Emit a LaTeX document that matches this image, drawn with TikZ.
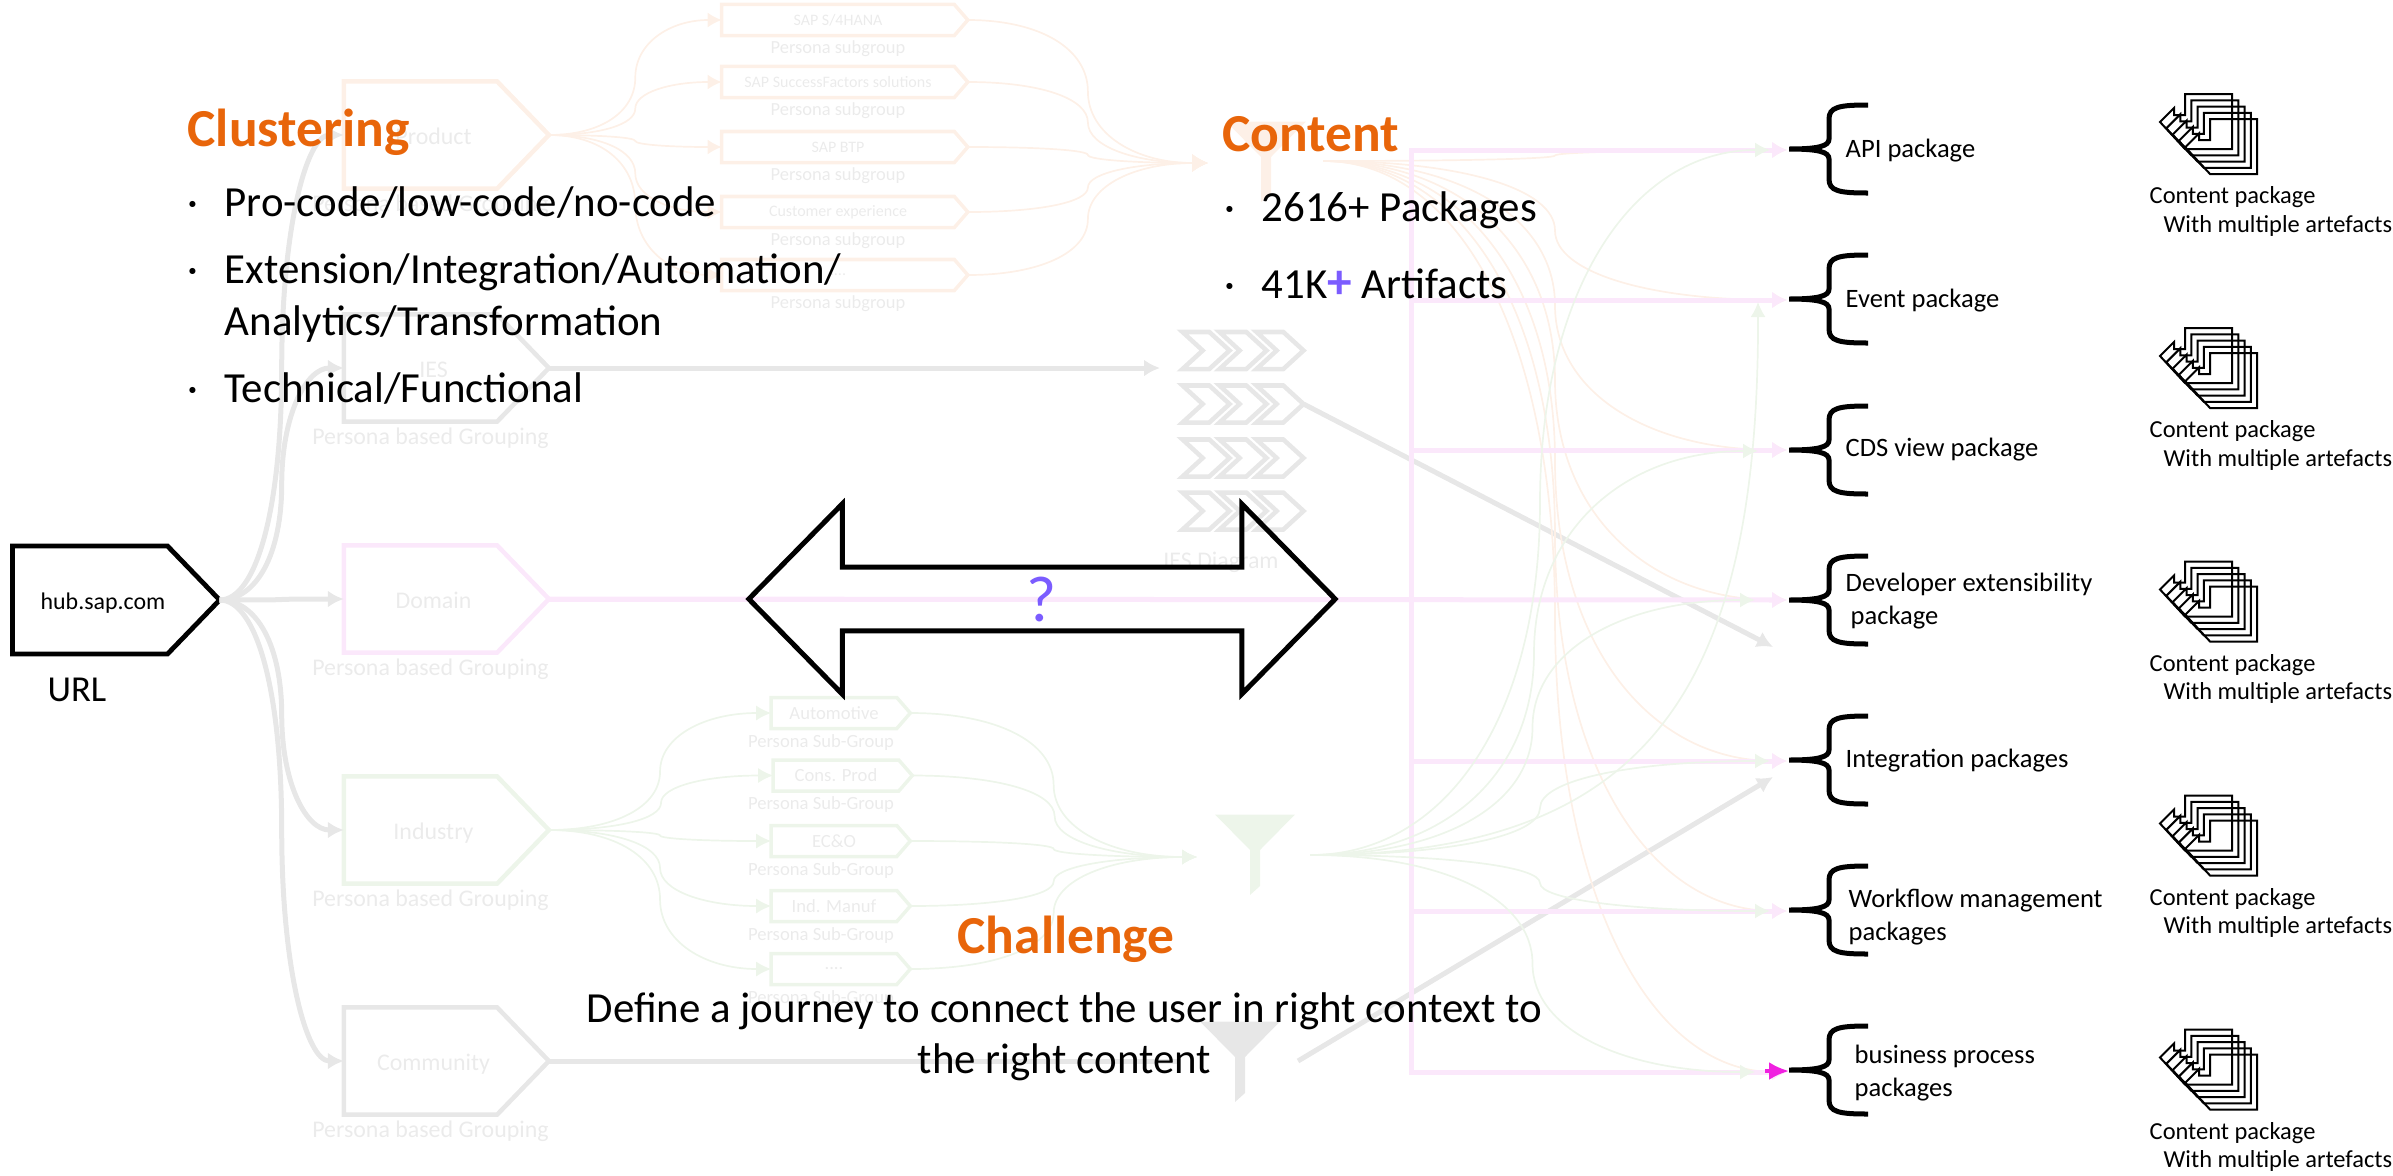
\documentclass[tikz,border=0pt]{standalone}
\usepackage{fontspec}
\setmainfont{Carlito}
\usepackage{xcolor}
\usetikzlibrary{arrows.meta, positioning, shapes.symbols, shapes.arrows, calc}

\definecolor{fadegrey}{HTML}{E7E7E7}
\definecolor{fadeorange}{HTML}{FDF0E7}
\definecolor{fadepink}{HTML}{FBE8FB}
\definecolor{fadegreen}{HTML}{EDF5EA}
\definecolor{fadetext}{HTML}{EBEBEB}
\definecolor{headorange}{HTML}{E8650A}
\definecolor{plusviolet}{HTML}{7B5CFF}
\definecolor{hotpink}{HTML}{F020E0}

\newcommand{\fsize}[2]{\fontsize{#1}{#2}\selectfont}
\newcommand{\bulletdot}{\makebox[.37cm][l]{·}}

\begin{document}
\begin{tikzpicture}[
x=.01cm, y=-.01cm,
plate/.style={signal,
draw,
line width=.045cm,
minimum width=2.05cm,
minimum height=1.07cm,
signal pointer angle=92,
inner sep=0pt,
outer sep=0pt,
text=fadetext,
text height=.18cm,
text depth=0pt,
execute at begin node={\hspace*{.26cm}},
font=\fsize{6.8}{8}},
subplate/.style={signal,
draw,
line width=.035cm,
minimum height=.31cm,
signal pointer angle=98,
inner sep=0pt,
outer sep=0pt,
text=fadetext},
orangesub/.style={subplate, draw=fadeorange, minimum width=2.46cm, font=\fsize{4.55}{6}},
greensub/.style={subplate, draw=fadegreen, minimum width=1.39cm, font=\fsize{5.3}{6}},
chevronbox/.style={signal,
signal from=west,
signal to=east,
draw=fadegrey,
line width=.045cm,
minimum width=.47cm,
minimum height=.37cm,
signal pointer angle=85,
inner sep=0pt,
outer sep=0pt},
fadelabel/.style={text=fadetext, inner sep=0pt, font=\fsize{6.8}{8}},
sublabel/.style={text=fadetext, inner sep=0pt, font=\fsize{5.25}{6}},
headline/.style={text=headorange, inner sep=0pt, anchor=base west, font=\bfseries\fsize{15.2}{18}},
bigtext/.style={inner sep=0pt, anchor=base west, align=left, font=\fsize{12.2}{14.8}},
pkglabel/.style={inner sep=0pt, anchor=west, align=left, font=\fsize{7.55}{9.2}},
pkgtext/.style={inner sep=0pt, anchor=west, align=left, font=\fsize{6.95}{8.2}},
greyarrow/.style={-{Latex[length=.16cm,width=.17cm]}, fadegrey, line width=.05cm},
pinkarrow/.style={-{Latex[length=.15cm,width=.17cm]}, fadepink, line width=.05cm},
orangethin/.style={-{Latex[length=.14cm,width=.15cm]}, fadeorange, line width=.017cm},
orangemerge/.style={-{Latex[length=.16cm,width=.18cm]}, fadeorange, line width=.017cm},
greenthin/.style={-{Latex[length=.15cm,width=.15cm]}, fadegreen, line width=.017cm},
elbow/.style={to path={let \p1=(\tikztostart), \p2=(\tikztotarget), \n1={.5*\x1+.5*\x2}, \n2={.5*\y1+.5*\y2} in .. controls ($(\x1,\y1)!.6!(\n1,\y1)$) and ($(\n1,\n2)!.6!(\n1,\y1)$) .. (\n1,\n2) .. controls ($(\n1,\n2)!.6!(\n1,\y2)$) and ($(\x2,\y2)!.6!(\n1,\y2)$) .. (\tikztotarget)}},
funnelicon/.pic={\fill[pic actions] (-40,-36.5) -- (40,-36.5) -- (5,-1) -- (5,35) -- (-5,44) -- (-5,-1) -- cycle;},
pkgbrace/.pic={\draw[line width=.05cm] (79,-44) .. controls (50,-44) and (40,-42) .. (40,-30) -- (40,-10) .. controls (40,-3) and (30,0) .. (0,0) .. controls (30,0) and (40,3) .. (40,10) -- (40,30) .. controls (40,42) and (50,44) .. (79,44);},
artpage/.pic={\draw[line width=.02cm] (25,-28) -- (72,-28) -- (72,27) -- (25,27) -- (0,0) -- (14,-14) -- (14,-7) -- (25,-7) -- cycle;},
pkgicon/.pic={\pic at (0,0) {artpage}; \pic at (6.3,6.3) {artpage}; \pic at (12.6,12.6) {artpage}; \pic at (18.9,18.9) {artpage}; \pic at (25.2,25.2) {artpage};}
]

\useasboundingbox (0,0) rectangle (2393,1175);

% left column
\node[plate, draw=black, line width=.048cm, minimum width=2.07cm, minimum height=1.08cm, text=black] (hub) at (90,600) {hub.sap.com};
\node[inner sep=0pt, font=\fsize{10.4}{12}] (urllabel) at (77,690) {URL};

\node[plate, draw=fadeorange] (product) at (420.5,135) {Product};
\node[plate, draw=fadegrey] (ies) at (420.5,368) {IES};
\node[plate, draw=fadepink] (domain) at (420.5,599) {Domain};
\node[plate, draw=fadegreen] (industry) at (420.5,830) {Industry};
\node[plate, draw=fadegrey] (community) at (420.5,1061) {Community};

\node[fadelabel, below=.06cm of product, xshift=.1cm] (productlab) {Persona based Grouping};
\node[fadelabel, below=.06cm of ies, xshift=.1cm] (ieslab) {Persona based Grouping};
\node[fadelabel, below=.06cm of domain, xshift=.1cm] (domainlab) {Persona based Grouping};
\node[fadelabel, below=.06cm of industry, xshift=.1cm] (industrylab) {Persona based Grouping};
\node[fadelabel, below=.06cm of community, xshift=.1cm] (communitylab) {Persona based Grouping};

\draw[greyarrow] (hub.east) to[elbow] (product.west);
\draw[greyarrow] (hub.east) to[elbow] (ies.west);
\draw[greyarrow] (hub.east) to[elbow] (domain.west);
\draw[greyarrow] (hub.east) to[elbow] (industry.west);
\draw[greyarrow] (hub.east) to[elbow] (community.west);

% product subgroups
\node[orangesub] (s4hana) at (838,20) {SAP S/4HANA};
\node[orangesub] (sfsf) at (838,82) {SAP SuccessFactors solutions};
\node[orangesub] (btp) at (838,147) {SAP BTP};
\node[orangesub] (cx) at (838,212) {Customer experience};
\node[orangesub] (moreorange) at (838,275) {....};

\node[sublabel, below=.04cm of s4hana] (s4hanalab) {Persona subgroup};
\node[sublabel, below=.04cm of sfsf] (sfsflab) {Persona subgroup};
\node[sublabel, below=.04cm of btp] (btplab) {Persona subgroup};
\node[sublabel, below=.04cm of cx] (cxlab) {Persona subgroup};
\node[sublabel, below=.04cm of moreorange] (moreorangelab) {Persona subgroup};

\coordinate (orangein) at (1208,163);
\pic[fadeorange, fill=fadeorange] at (1266,158) {funnelicon};
\coordinate (orangeout) at (1323,161);

\draw[orangethin] (product.east) to[elbow] (s4hana.west);
\draw[orangethin] (product.east) to[elbow] (sfsf.west);
\draw[orangethin] (product.east) to[elbow] (btp.west);
\draw[orangethin] (product.east) to[elbow] (cx.west);
\draw[orangethin] (product.east) to[elbow] (moreorange.west);
\draw[orangemerge] (s4hana.east) to[elbow] (orangein);
\draw[orangemerge] (sfsf.east) to[elbow] (orangein);
\draw[orangemerge] (btp.east) to[elbow] (orangein);
\draw[orangemerge] (cx.east) to[elbow] (orangein);
\draw[orangemerge] (moreorange.east) to[elbow] (orangein);

% industry subgroups
\node[greensub] (auto) at (834,713) {Automotive};
\node[greensub] (consprod) at (836,775.5) {Cons. Prod};
\node[greensub] (eco) at (834,841) {EC\&O};
\node[greensub] (manuf) at (834,906) {Ind. Manuf};
\node[greensub] (moregreen) at (834,969) {....};

\node[sublabel, below=.05cm of auto, xshift=-.13cm, font=\fsize{5.3}{6}] (autolab) {Persona Sub-Group};
\node[sublabel, below=.05cm of consprod, xshift=-.15cm, font=\fsize{5.3}{6}] (consprodlab) {Persona Sub-Group};
\node[sublabel, below=.05cm of eco, xshift=-.13cm, font=\fsize{5.3}{6}] (ecolab) {Persona Sub-Group};
\node[sublabel, below=.05cm of manuf, xshift=-.13cm, font=\fsize{5.3}{6}] (manuflab) {Persona Sub-Group};
\node[sublabel, below=.05cm of moregreen, xshift=-.13cm, font=\fsize{5.3}{6}] (moregreenlab) {Persona Sub-Group};

\coordinate (greenin) at (1197,857);
\pic[fadegreen, fill=fadegreen] at (1255,851) {funnelicon};
\coordinate (greenout) at (1310,855);

\draw[greenthin] (industry.east) to[elbow] (auto.west);
\draw[greenthin] (industry.east) to[elbow] (consprod.west);
\draw[greenthin] (industry.east) to[elbow] (eco.west);
\draw[greenthin] (industry.east) to[elbow] (manuf.west);
\draw[greenthin] (industry.east) to[elbow] (moregreen.west);
\draw[greenthin] (auto.east) to[elbow] (greenin);
\draw[greenthin] (consprod.east) to[elbow] (greenin);
\draw[greenthin] (eco.east) to[elbow] (greenin);
\draw[greenthin] (manuf.east) to[elbow] (greenin);
\draw[greenthin] (moregreen.east) to[elbow] (greenin);

% ies diagram
\node[chevronbox] (chev11) at (1206,350.5) {};
\node[chevronbox] (chev12) at (1243,350.5) {};
\node[chevronbox] (chev13) at (1280,350.5) {};
\node[chevronbox] (chev21) at (1206,404) {};
\node[chevronbox] (chev22) at (1243,404) {};
\node[chevronbox] (chev23) at (1280,404) {};
\node[chevronbox] (chev31) at (1206,458) {};
\node[chevronbox] (chev32) at (1243,458) {};
\node[chevronbox] (chev33) at (1280,458) {};
\node[chevronbox] (chev41) at (1206,511) {};
\node[chevronbox] (chev42) at (1243,511) {};
\node[chevronbox] (chev43) at (1280,511) {};
\node[fadelabel] (chevlab) at (1221,562) {IES Diagram};

\coordinate (iesin) at (1160,368);
\coordinate (devmiss) at (1773,647);
\draw[greyarrow] (ies.east) -- (iesin);
\draw[greyarrow] (chev23.east) -- (devmiss);

% community funnel
\pic[fadegrey, fill=fadegrey] at (1240,1058) {funnelicon};
\coordinate (commin) at (1178,1061);
\coordinate (commout) at (1298,1061);
\coordinate (intmiss) at (1773,777);
\draw[fadegrey, line width=.05cm] (community.east) -- (commin);
\draw[greyarrow] (commout) -- (intmiss);

% targets of the connectors
\coordinate (apitip) at (1787,150);
\coordinate (evttip) at (1787,300);
\coordinate (cdstip) at (1787,450);
\coordinate (devtip) at (1787,600);
\coordinate (inttip) at (1787,761);
\coordinate (wfltip) at (1787,911);
\coordinate (bpstip) at (1787,1072);

\coordinate (apigreen) at (1770,150);
\coordinate (evtgreen) at (1758,302);
\coordinate (cdsgreen) at (1758,451);
\coordinate (devgreen) at (1755,600);
\coordinate (intgreen) at (1770,761);
\coordinate (wflgreen) at (1770,911);
\coordinate (bpsgreen) at (1755,1072);

\draw[orangethin] (orangeout) to[elbow] (apitip);
\draw[orangethin] (orangeout) to[elbow] (evttip);
\draw[orangethin] (orangeout) to[elbow] (cdstip);
\draw[orangethin] (orangeout) to[elbow] (devtip);
\draw[orangethin] (orangeout) to[elbow] (inttip);
\draw[orangethin] (orangeout) to[elbow] (wfltip);
\draw[orangethin] (orangeout) to[elbow] (bpstip);

\coordinate (pinkbus) at (1411,599);
\draw[pinkarrow] (domain.east) -- (pinkbus) |- (apitip);
\draw[pinkarrow] (domain.east) -- (pinkbus) |- (evttip);
\draw[pinkarrow] (domain.east) -- (pinkbus) |- (cdstip);
\draw[pinkarrow] (domain.east) -- (devtip);
\draw[pinkarrow] (domain.east) -- (pinkbus) |- (inttip);
\draw[pinkarrow] (domain.east) -- (pinkbus) |- (wfltip);
\draw[pinkarrow] (domain.east) -- (pinkbus) |- (bpstip);

\draw[greenthin] (greenout) to[elbow] (apigreen);
\draw[greenthin] (greenout) .. controls (1640,855) and (1759,700) .. (evtgreen);
\draw[greenthin] (greenout) to[elbow] (cdsgreen);
\draw[greenthin] (greenout) to[elbow] (devgreen);
\draw[greenthin] (greenout) to[elbow] (intgreen);
\draw[greenthin] (greenout) to[elbow] (wflgreen);
\draw[greenthin] (greenout) to[elbow] (bpsgreen);

\coordinate (hotstart) at (1765,1071);
\coordinate (hotend) at (1789,1071);
\draw[-{Latex[length=.2cm,width=.18cm]}, hotpink, line width=.035cm] (hotstart) -- (hotend);

% double arrow
\node[double arrow,
draw=black,
line width=.05cm,
minimum height=5.86cm,
minimum width=1.9cm,
double arrow head extend=.495cm,
double arrow tip angle=91,
inner sep=0pt,
outer sep=0pt,
text=plusviolet,
font=\fsize{18.5}{20}] (bridge) at (1042,599) {?};

% braces and their labels
\pic at (1789,149) {pkgbrace};
\pic at (1789,299) {pkgbrace};
\pic at (1789,450) {pkgbrace};
\pic at (1789,600) {pkgbrace};
\pic at (1789,760) {pkgbrace};
\pic at (1789,910) {pkgbrace};
\pic at (1789,1070) {pkgbrace};

\node[pkglabel] (apilab) at (1845,151) {API package};
\node[pkglabel] (evtlab) at (1845,301) {Event package};
\node[pkglabel] (cdslab) at (1845,450) {CDS view package};
\node[pkglabel] (devlab) at (1845,601) {Developer extensibility\\\hspace*{.05cm}package};
\node[pkglabel] (intlab) at (1845,761) {Integration packages};
\node[pkglabel] (wfllab) at (1848,917) {Workflow management\\packages};
\node[pkglabel] (bpslab) at (1854,1073) {business process\\packages};

% package icons
\pic at (2160,122) {pkgicon};
\pic at (2160,356) {pkgicon};
\pic at (2160,589.5) {pkgicon};
\pic at (2160,823.5) {pkgicon};
\pic at (2160,1057.5) {pkgicon};

\node[pkgtext] (pkg1) at (2149,211.5) {Content package\\\hspace*{.14cm}With multiple artefacts};
\node[pkgtext] (pkg2) at (2149,445.5) {Content package\\\hspace*{.14cm}With multiple artefacts};
\node[pkgtext] (pkg3) at (2149,679) {Content package\\\hspace*{.14cm}With multiple artefacts};
\node[pkgtext] (pkg4) at (2149,913) {Content package\\\hspace*{.14cm}With multiple artefacts};
\node[pkgtext] (pkg5) at (2149,1147) {Content package\\\hspace*{.14cm}With multiple artefacts};

% headlines
\node[headline] (clustering) at (187,146) {Clustering};
\node[bigtext] (item1) at (187,216) {\bulletdot Pro-code/low-code/no-code};
\node[bigtext] (item2) at (187,283) {\bulletdot Extension/Integration/Automation/};
\node[bigtext] (item2b) at (224,335) {Analytics/Transformation};
\node[bigtext] (item3) at (187,402) {\bulletdot Technical/Functional};

\node[headline] (content) at (1222,151) {Content};
\node[bigtext] (count1) at (1224,221) {\bulletdot 2616+ Packages};
\node[bigtext] (count2) at (1224,298) {\bulletdot 41K{\color{plusviolet}\bfseries\fsize{14}{14}+} Artifacts};

\node[headline] (challenge) at (957,953) {Challenge};
\node[inner sep=0pt, align=center, font=\fsize{12.2}{14.5}] (journey) at (1064.5,1037) {Define a journey to connect the user in right context to\\the right content};

\end{tikzpicture}
\end{document}
